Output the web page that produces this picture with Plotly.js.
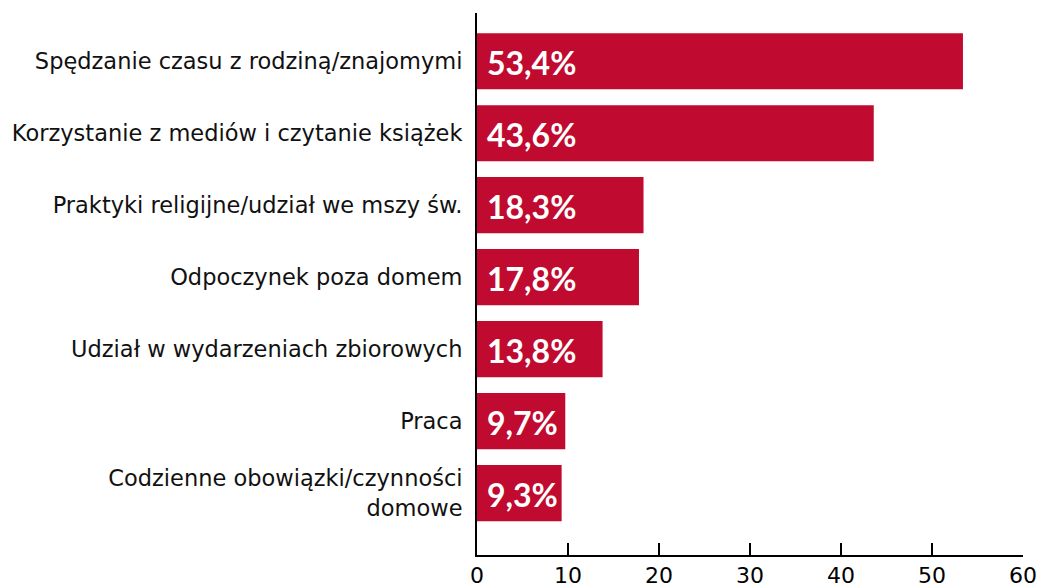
<!DOCTYPE html>
<html><head><meta charset="utf-8">
<script src="https://cdn.plot.ly/plotly-3.0.1.min.js"></script>
<style>body{margin:0;background:#fff}#chart{width:1038px;height:583px}</style>
</head><body><div id="chart"></div>
<script>
const categories = [
  "Spędzanie czasu z rodziną/znajomymi",
  "Korzystanie z mediów i czytanie książek",
  "Praktyki religijne/udział we mszy św.",
  "Odpoczynek poza domem",
  "Udział w wydarzeniach zbiorowych",
  "Praca",
  "Codzienne obowiązki/czynności<br>domowe"
];
const values = [53.4, 43.6, 18.3, 17.8, 13.8, 9.7, 9.3];
const valueLabels = ["53,4%", "43,6%", "18,3%", "17,8%", "13,8%", "9,7%", "9,3%"];
const xTicks = [0, 10, 20, 30, 40, 50, 60];

const barColor = "#C00A30";
const font = "Lato, 'Noto Sans', sans-serif";
const catFont = "'DejaVu Sans', sans-serif";

const trace = {
  type: "bar", orientation: "h",
  y: categories, x: values,
  marker: {color: barColor},
  hoverinfo: "none"
};

const annotations = categories.map((c, i) => ({
  x: 0, y: c, xref: "x", yref: "y",
  text: valueLabels[i], showarrow: false,
  xanchor: "left", yanchor: "middle", xshift: 8, yshift: -1,
  font: {family: font, size: 32, color: "#ffffff", weight: "bold"}
}));

const layout = {
  width: 1038, height: 583,
  margin: {l: 477, r: 15, t: 13, b: 28},
  paper_bgcolor: "#fff", plot_bgcolor: "#fff",
  showlegend: false,
  bargap: 0.22,
  xaxis: {
    range: [0, 60], tickvals: xTicks, ticktext: xTicks.map(String),
    showgrid: false, zeroline: false,
    showline: true, linecolor: "#000", linewidth: 2,
    ticks: "inside", ticklen: 12, tickwidth: 2, tickcolor: "#000",
    tickfont: {family: catFont, size: 22, color: "#000"}
  },
  yaxis: {
    categoryorder: "array", categoryarray: categories,
    range: [6.86, -0.67],
    showgrid: false, zeroline: false,
    showline: true, linecolor: "#000", linewidth: 2,
    ticks: "", ticklabelstandoff: 8,
    tickfont: {family: catFont, size: 22.5, color: "#111"}
  },
  annotations: annotations
};

Plotly.newPlot("chart", [trace], layout, {staticPlot: true, displayModeBar: false});
</script></body></html>
